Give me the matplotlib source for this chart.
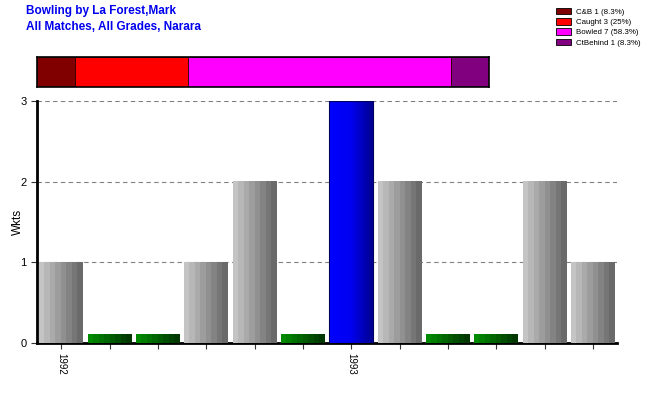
import numpy as np
import matplotlib
matplotlib.use("Agg")
import matplotlib.pyplot as plt
from matplotlib.patches import Patch
from matplotlib.colors import LinearSegmentedColormap

plt.rcParams['font.family'] = ['Liberation Sans', 'DejaVu Sans']

wkts = [1, 0, 0, 1, 2, 0, 3, 2, 0, 0, 2, 1]
tick_labels = ["1992", "", "", "", "", "", "1993", "", "", "", "", ""]
highlight = 6
zero_height = 0.1

dismissal_labels = ["C&B 1 (8.3%)", "Caught 3 (25%)", "Bowled 7 (58.3%)", "CtBehind 1 (8.3%)"]
dismissal_counts = [1, 3, 7, 1]
dismissal_colors = ["#800000", "#ff0000", "#ff00ff", "#800080"]

title_lines = ["Bowling by La Forest,Mark", "All Matches, All Grades, Narara"]

fig = plt.figure(figsize=(6.5, 4.0), dpi=100)

# Main axes
ax = fig.add_axes([37/650, 57/400, 580/650, 242/400])
gray_cmap = LinearSegmentedColormap.from_list("g", ["#c4c4c4", "#6a6a6a"], N=8)
green_cmap = LinearSegmentedColormap.from_list("gr", ["#008a00", "#003800"], N=8)
blue_cmap = LinearSegmentedColormap.from_list("b", ["#0000ff", "#0000f0", "#000090"])
grad = np.linspace(0, 1, 64).reshape(1, -1)
width = 0.9
x = np.arange(len(wkts))
for i, v in enumerate(wkts):
    h = v if v > 0 else zero_height
    x0, x1 = i - width / 2, i + width / 2
    if v == 0:
        cm = green_cmap
    elif i == highlight:
        cm = blue_cmap
    else:
        cm = gray_cmap
    ax.imshow(grad, cmap=cm, extent=(x0, x1, 0, h), aspect='auto', zorder=3,
              interpolation='nearest')
    if i == highlight:
        ax.bar(i, h, width=width, fill=False, edgecolor="#000060", linewidth=0.8, zorder=4)

ax.set_xlim(-0.5, len(wkts) - 0.5)
ax.set_ylim(0, 3)
ax.set_yticks([0, 1, 2, 3])
ax.set_yticklabels(["0", "1", "2", "3"], fontsize=8)
ax.set_xticks(x)
ax.set_xticklabels(tick_labels, rotation=270, fontsize=7)
ax.tick_params(axis='both', length=4, width=0.8, color="#333333")
ax.set_ylabel("Wkts", fontsize=8.5)
ax.yaxis.set_label_coords(-0.022, 0.5)
ax.grid(axis='y', linestyle=(0, (4, 3)), color="#808080", linewidth=0.8, zorder=0)
ax.set_axisbelow(True)
for s in ["top", "right"]:
    ax.spines[s].set_visible(False)
ax.spines["left"].set_linewidth(2)
ax.spines["bottom"].set_linewidth(2)

# Dismissal strip
sax = fig.add_axes([37/650, 313/400, 452/650, 30/400])
left = 0
for c, col in zip(dismissal_counts, dismissal_colors):
    sax.barh(0, c, left=left, color=col, height=1, edgecolor="#300000", linewidth=0.6)
    left += c
sax.set_xlim(0, sum(dismissal_counts))
sax.set_ylim(-0.5, 0.5)
sax.set_xticks([])
sax.set_yticks([])
for s in sax.spines.values():
    s.set_linewidth(1.2)

# Legend
handles = [Patch(facecolor=c, edgecolor="black", linewidth=0.6) for c in dismissal_colors]
fig.legend(handles, dismissal_labels, loc="upper left", bbox_to_anchor=(550/650, 1.0 - 2/400),
           fontsize=5.7, frameon=False, handlelength=2.0, handleheight=0.9,
           labelspacing=0.3, handletextpad=0.6, borderaxespad=0.3)

# Titles
fig.text(26/650, 1 - 11/400, title_lines[0], color="#0000ee", fontsize=8.5, fontweight="bold", va="center")
fig.text(26/650, 1 - 27/400, title_lines[1], color="#0000ee", fontsize=8.5, fontweight="bold", va="center")

fig.savefig("out.png", dpi=100)
